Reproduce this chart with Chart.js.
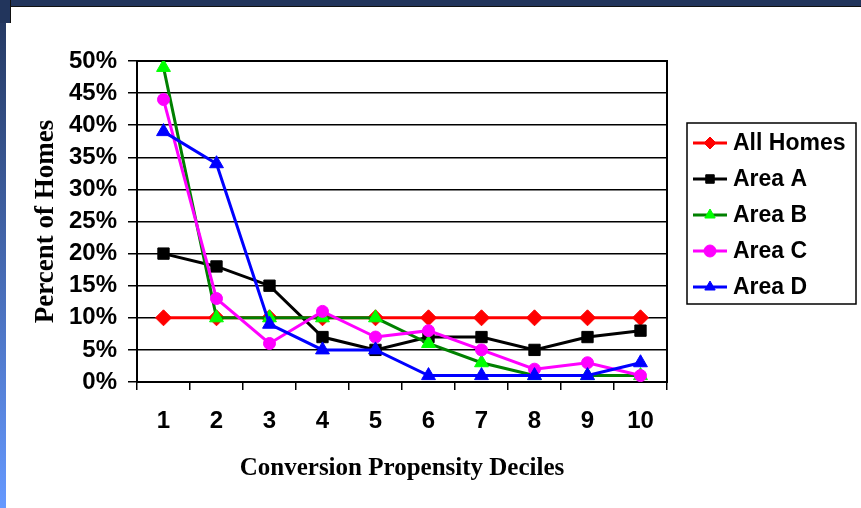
<!DOCTYPE html>
<html>
<head>
<meta charset="utf-8">
<script src="https://cdn.jsdelivr.net/npm/chart.js@4.4.1/dist/chart.umd.min.js"></script>
<style>
  body { margin: 0; width: 861px; height: 508px; background: #fff; position: relative; overflow: hidden; }
  #topBand { position: absolute; left: 0; top: 0; width: 861px; height: 6px; background: #22355c; border-bottom: 1px solid #111; }
  #leftBand { position: absolute; left: 0; top: 0; width: 6px; height: 508px; background: linear-gradient(#22355c, #6699ff); }
  #corner { position: absolute; left: 0; top: 0; width: 10px; height: 23px; background: #22355c; border-right: 1px solid #111; }
  #wrap { position: absolute; left: 0; top: 0; width: 861px; height: 508px; }
</style>
</head>
<body>
<div id="topBand"></div>
<div id="leftBand"></div>
<div id="corner"></div>
<div id="wrap"><canvas id="trendChart" width="861" height="508"></canvas></div>
<script>
  // Chart data
  const deciles = ['1', '2', '3', '4', '5', '6', '7', '8', '9', '10'];
  const allHomes = [10, 10, 10, 10, 10, 10, 10, 10, 10, 10];
  const areaA = [20, 18, 15, 7, 5, 7, 7, 5, 7, 8];
  const areaB = [49, 10, 10, 10, 10, 6, 3, 1, 1, 1];
  const areaC = [44, 13, 6, 11, 7, 8, 5, 2, 3, 1];
  const areaD = [39, 34, 9, 5, 5, 1, 1, 1, 1, 3];
  const yTicks = [0, 5, 10, 15, 20, 25, 30, 35, 40, 45, 50];

  const sansBold = { family: '"Liberation Sans", Arial, sans-serif', weight: 'bold' };
  const serifBold = { family: '"Liberation Serif", "Times New Roman", serif', weight: 'bold' };

  function series(label, data, line, fill, style, radius, order) {
    return {
      label: label,
      data: data,
      borderColor: line,
      borderWidth: 3,
      pointStyle: style,
      pointRadius: radius,
      pointHoverRadius: radius,
      pointBackgroundColor: fill,
      pointBorderColor: fill,
      pointBorderWidth: 1,
      tension: 0,
      order: order,
    };
  }

  const datasets = [
    series('All Homes', allHomes, '#ff0000', '#ff0000', 'rectRot', 8, 5),
    series('Area A', areaA, '#000000', '#000000', 'rect', 8, 4),
    series('Area B', areaB, '#008000', '#00ff00', 'triangle', 8, 3),
    series('Area C', areaC, '#ff00ff', '#ff00ff', 'circle', 6, 2),
    series('Area D', areaD, '#0000ff', '#0000ff', 'triangle', 8, 1),
  ];

  // plot frame (right + top edges)
  const frame = {
    id: 'frame',
    beforeDatasetsDraw(chart) {
      const a = chart.chartArea;
      const c = chart.ctx;
      c.save();
      c.strokeStyle = '#000';
      c.lineWidth = 2;
      c.strokeRect(a.left, a.top, a.right - a.left, a.bottom - a.top);
      c.restore();
    }
  };

  // boxed legend at the right, line + marker per series
  const boxLegend = {
    id: 'boxLegend',
    afterDraw(chart) {
      const c = chart.ctx;
      c.save();
      c.strokeStyle = '#000';
      c.lineWidth = 1.5;
      c.strokeRect(687, 123, 169, 181);
      chart.data.datasets.forEach((ds, i) => {
        const y = 143 + i * 36;
        c.strokeStyle = ds.borderColor;
        c.lineWidth = 3;
        c.beginPath();
        c.moveTo(693, y);
        c.lineTo(727, y);
        c.stroke();
        c.fillStyle = ds.pointBackgroundColor;
        c.strokeStyle = ds.pointBorderColor;
        c.lineWidth = 1;
        Chart.helpers.drawPoint(c, { pointStyle: ds.pointStyle, radius: 6, borderWidth: 1, rotation: 0 }, 710, y);
        c.fillStyle = '#000';
        c.font = 'bold 23px "Liberation Sans", Arial, sans-serif';
        c.textBaseline = 'middle';
        c.textAlign = 'left';
        c.fillText(ds.label, 733, y + 1);
      });
      c.restore();
    }
  };

  const ctx = document.getElementById('trendChart').getContext('2d');
  new Chart(ctx, {
    type: 'line',
    data: { labels: deciles, datasets: datasets },
    plugins: [frame, boxLegend],
    options: {
      responsive: false,
      animation: false,
      events: [],
      layout: { padding: { left: 26, top: 61, right: 194, bottom: 20 } },
      plugins: { legend: { display: false }, tooltip: { enabled: false } },
      scales: {
        x: {
          offset: true,
          afterFit(scale) { scale.height = 106; },
          grid: { offset: true, drawOnChartArea: false, tickLength: 8, color: '#000', lineWidth: 1.5 },
          border: { color: '#000', width: 2 },
          ticks: { color: '#000', padding: 17, font: Object.assign({ size: 24 }, sansBold) },
          title: { display: true, text: 'Conversion Propensity Deciles', color: '#000', font: Object.assign({ size: 25 }, serifBold) },
        },
        y: {
          min: 0,
          max: 50,
          afterFit(scale) { scale.width = 111; },
          afterBuildTicks(scale) { scale.ticks = yTicks.map(v => ({ value: v })); },
          grid: { tickLength: 9, color: '#000', lineWidth: 1.5 },
          border: { color: '#000', width: 2 },
          ticks: { color: '#000', padding: 11, font: Object.assign({ size: 24 }, sansBold), callback: v => v + '%' },
          title: { display: true, text: 'Percent of Homes', color: '#000', font: Object.assign({ size: 27 }, serifBold) },
        },
      },
    },
  });
</script>
</body>
</html>
